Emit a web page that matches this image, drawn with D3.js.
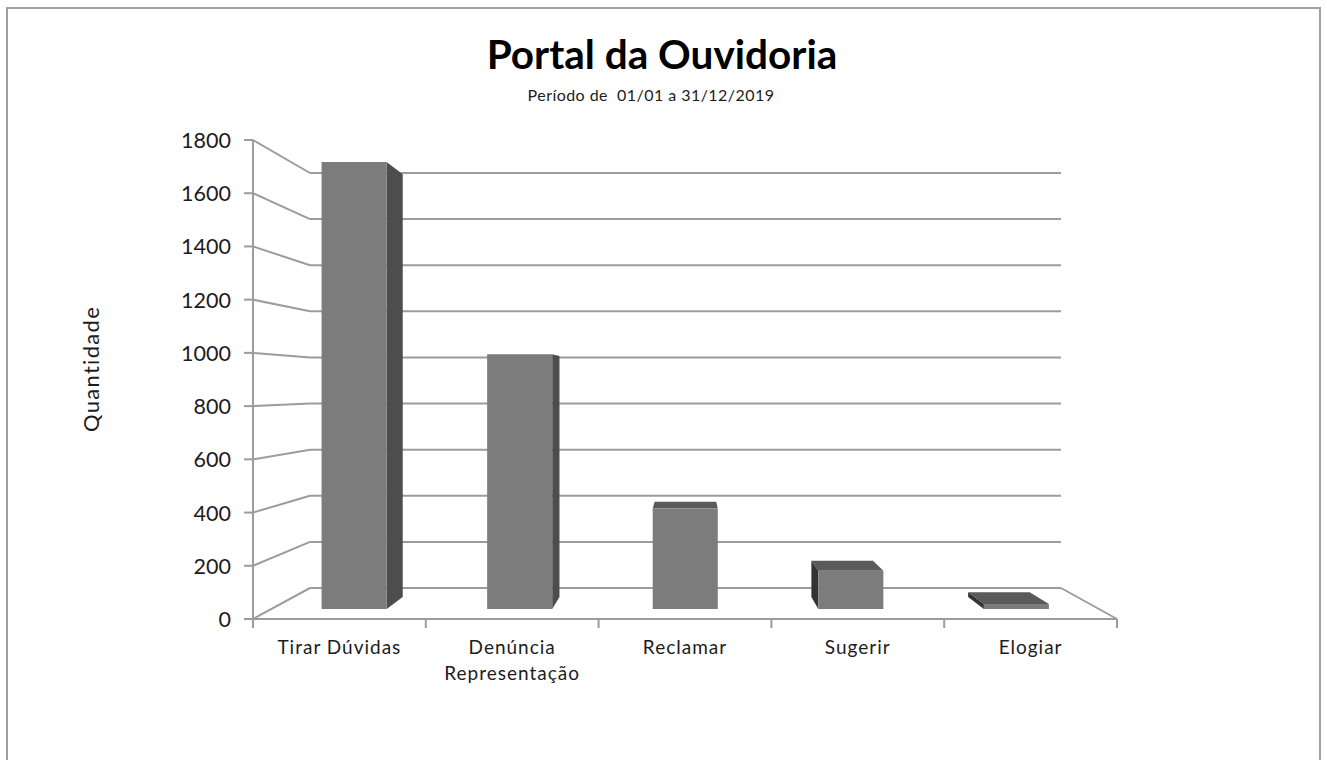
<!DOCTYPE html>
<html>
<head>
<meta charset="utf-8">
<script src="https://d3js.org/d3.v7.min.js"></script>
<style>
  html, body { margin: 0; padding: 0; background: #fff; overflow: hidden; }
  text { fill: #1c1c1c; }
</style>
</head>
<body>
<svg id="chart" width="1327" height="760"></svg>
<script>
const titleText = "Portal da Ouvidoria";
const subtitleText = "Período de  01/01 a 31/12/2019";
const yAxisTitle = "Quantidade";
const categories = ["Tirar Dúvidas", "Denúncia", "Reclamar", "Sugerir", "Elogiar"];
const categoryLines = [["Tirar Dúvidas"], ["Denúncia", "Representação"], ["Reclamar"], ["Sugerir"], ["Elogiar"]];
const values = [1755, 1000, 395, 150, 20];
const yTicks = [0, 200, 400, 600, 800, 1000, 1200, 1400, 1600, 1800];

const svg = d3.select("#chart");

// frame of the picture
svg.append("rect")
  .attr("x", 7).attr("y", 8)
  .attr("width", 1313).attr("height", 770)
  .attr("fill", "#fff")
  .attr("stroke", "#a0a0a0")
  .attr("stroke-width", 2);

// the floor is a trapezoid, so depth scales map 0 (front) to 1 (back wall)
const leftAt = d3.scaleLinear().domain([0, 1]).range([253, 310]);
const rightAt = d3.scaleLinear().domain([0, 1]).range([1117, 1061]);
const floorAt = d3.scaleLinear().domain([0, 1]).range([619, 588]);
const ceilAt = d3.scaleLinear().domain([0, 1]).range([140, 173]);

function project(cat, offset, value, depth) {
  const x = d3.scaleBand().domain(categories).range([leftAt(depth), rightAt(depth)]);
  const y = d3.scaleLinear().domain([0, 1800]).range([floorAt(depth), ceilAt(depth)]);
  return [x(cat) + x.bandwidth() * offset, y(value)];
}

const gridColor = "#9c9c9c";
const grid = svg.append("g").attr("fill", "none").attr("stroke", gridColor).attr("stroke-width", 2);

const tickY = d3.scaleLinear().domain([0, 1800]).range([619, 140]);
const wallTick = d3.scaleLinear().domain([0, 1800]).range([588, 173]);

yTicks.forEach(v => {
  grid.append("line")
    .attr("x1", leftAt(0)).attr("y1", tickY(v))
    .attr("x2", leftAt(1)).attr("y2", wallTick(v));
  grid.append("line")
    .attr("x1", leftAt(1)).attr("y1", wallTick(v))
    .attr("x2", rightAt(1)).attr("y2", wallTick(v));
});

// floor edge on the right
grid.append("line")
  .attr("x1", rightAt(1)).attr("y1", floorAt(1))
  .attr("x2", rightAt(0)).attr("y2", floorAt(0));

// axes
const axisG = svg.append("g").attr("stroke", gridColor).attr("stroke-width", 2);
axisG.append("line").attr("x1", 253).attr("x2", 253).attr("y1", 140).attr("y2", 619);
axisG.append("line").attr("x1", 253).attr("x2", 1117).attr("y1", 619).attr("y2", 619);
yTicks.forEach(v => {
  axisG.append("line").attr("x1", 244).attr("x2", 253).attr("y1", tickY(v)).attr("y2", tickY(v));
});
const xFront = d3.scaleBand().domain(categories).range([253, 1117]);
categories.concat(["end"]).forEach((c, i) => {
  const x = 253 + i * xFront.bandwidth();
  axisG.append("line").attr("x1", x).attr("x2", x).attr("y1", 619).attr("y2", 628);
});

// bars
const frontDepth = 0.32, backDepth = 0.71, lo = 0.304, hi = 0.697;
const polyLine = pts => pts.map(p => p.join(",")).join(" ");

const bars = svg.append("g");
categories.forEach((c, i) => {
  const v = values[i];
  const fbl = project(c, lo, 0, frontDepth), fbr = project(c, hi, 0, frontDepth);
  const ftl = project(c, lo, v, frontDepth), ftr = project(c, hi, v, frontDepth);
  const bbl = project(c, lo, 0, backDepth), bbr = project(c, hi, 0, backDepth);
  const btl = project(c, lo, v, backDepth), btr = project(c, hi, v, backDepth);
  const g = bars.append("g");
  // top face, only seen when its back edge is above the front edge
  if (btl[1] < ftl[1]) {
    g.append("polygon").attr("points", polyLine([ftl, ftr, btr, btl])).attr("fill", "#5a5a5a");
  }
  if (bbr[0] > fbr[0]) {
    g.append("polygon").attr("points", polyLine([ftr, fbr, bbr, btr])).attr("fill", "#4d4d4d");
  }
  if (bbl[0] < fbl[0]) {
    g.append("polygon").attr("points", polyLine([ftl, fbl, bbl, btl])).attr("fill", "#333333");
  }
  g.append("polygon").attr("points", polyLine([ftl, ftr, fbr, fbl])).attr("fill", "#7c7c7c");
});

// text
const font = "Lato, sans-serif";
svg.append("text")
  .attr("x", 662).attr("y", 69).attr("text-anchor", "middle")
  .style("font", `bold 40.5px ${font}`)
  .style("fill", "#000")
  .text(titleText);
svg.append("text")
  .attr("x", 651).attr("y", 101).attr("text-anchor", "middle")
  .style("font", `16px ${font}`)
  .style("letter-spacing", "0.45px")
  .style("white-space", "pre")
  .text(subtitleText);
svg.append("text")
  .attr("transform", "translate(99,369) rotate(-90)")
  .attr("text-anchor", "middle")
  .style("font", `22px ${font}`)
  .style("letter-spacing", "1.3px")
  .text(yAxisTitle);

yTicks.forEach(v => {
  svg.append("text")
    .attr("x", 231).attr("y", tickY(v) + 8)
    .attr("text-anchor", "end")
    .style("font", `21.5px ${font}`)
    .text(v);
});

categoryLines.forEach((lines, i) => {
  const cx = 253 + (i + 0.5) * xFront.bandwidth();
  lines.forEach((t, j) => {
    svg.append("text")
      .attr("x", cx).attr("y", 654 + j * 26)
      .attr("text-anchor", "middle")
      .style("font", `19px ${font}`)
      .style("letter-spacing", "1px")
      .text(t);
  });
});
</script>
</body>
</html>
